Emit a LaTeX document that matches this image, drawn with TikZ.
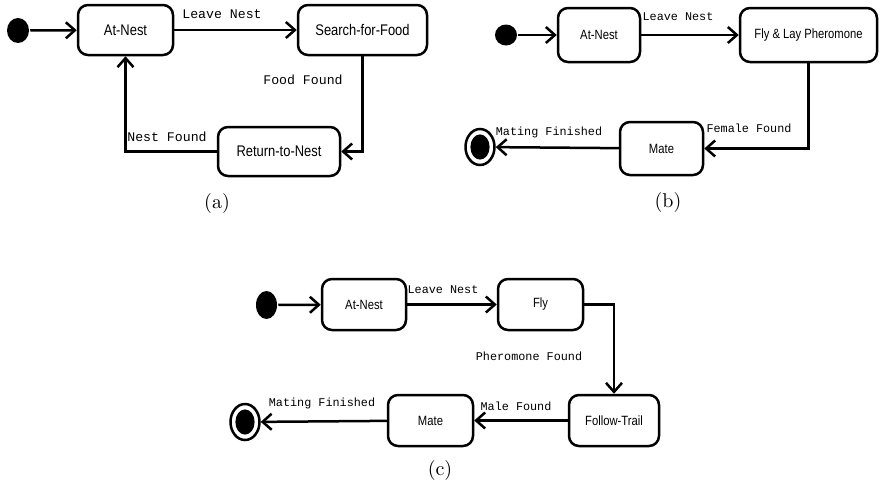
\documentclass[tikz,border=0pt]{standalone}
\usepackage{fontspec}
\setmonofont{Liberation Mono}
\newfontfamily\statefont[FakeStretch=0.84]{Liberation Sans}
\usetikzlibrary{arrows.meta,shapes.geometric}
\tikzset{
every picture/.style={line width=1.25pt},
state/.style={draw, rounded corners=5pt, align=center, inner sep=1pt,
  font=\statefont\fontsize{6.7}{8}\selectfont},
init/.style={ellipse, fill, inner sep=0pt},
final/.style={ellipse, draw, fill=white, inner sep=0pt,
  minimum width=14.5pt, minimum height=18pt,
  path picture={\fill[black] (path picture bounding box.center) ellipse (4.8pt and 6.3pt);}},
trans/.style={-{Straight Barb[length=4.5pt,width=8pt]}},
evt/.style={inner sep=1pt, font=\ttfamily\fontsize{5.9}{7}\selectfont},
caption/.style={font=\fontsize{10}{12}\selectfont}
}
\begin{document}
\begin{tikzpicture}[x=0.5pt,y=-0.5pt]
  \useasboundingbox (0,0) rectangle (883,488);
  % (a) foraging
  \begin{scope}[state/.append style={font=\statefont\fontsize{7.7}{9}\selectfont},
      evt/.append style={font=\ttfamily\fontsize{6.6}{8}\selectfont}]
    \node[init, minimum width=11pt, minimum height=12.5pt] (ia) at (18,30.5) {};
    \node[state, minimum width=47.5pt, minimum height=25pt] (a1) at (125.5,30) {At-Nest};
    \node[state, minimum width=64.5pt, minimum height=25pt] (a2) at (362.5,30) {Search-for-Food};
    \node[state, minimum width=61pt, minimum height=24.5pt] (a3) at (279,151.5) {Return-to-Nest};
    \draw[trans] (ia) -- (a1);
    \draw[trans] (a1) -- (a2);
    \draw[trans] (a2.south) |- (a3.east);
    \draw[trans] (a3.west) -| (a1.south);
    \node[evt] (la1) at (222,14) {Leave Nest};
    \node[evt] (la2) at (303,80) {Food Found};
    \node[evt] (la3) at (167,137) {Nest Found};
    \node[caption] (capa) at (217,203) {(a)};
  \end{scope}
  % (b) male
  \node[init, minimum width=11pt, minimum height=10.5pt] (ib) at (506,35) {};
  \node[state, minimum width=41pt, minimum height=27pt] (b1) at (599,35) {At-Nest};
  \node[state, minimum width=68.5pt, minimum height=27pt] (b2) at (808.5,35) {Fly \& Lay Pheromone};
  \node[state, minimum width=41.5pt, minimum height=26.5pt] (b3) at (661.5,148.5) {Mate};
  \node[final] (fb) at (480,147) {};
  \draw[trans] (ib) -- (b1);
  \draw[trans] (b1) -- (b2);
  \draw[trans] (b2.south) |- (b3.east);
  \draw[trans] (b3) -- (fb);
  \node[evt] (lb1) at (678,17) {Leave Nest};
  \node[evt] (lb2) at (749,128) {Female Found};
  \node[evt] (lb3) at (549,132) {Mating Finished};
  \node[caption] (capb) at (668,202) {(b)};
  % (c) female
  \node[init, minimum width=10.5pt, minimum height=14pt] (ic) at (266.5,305) {};
  \node[state, minimum width=42pt, minimum height=25.5pt] (c1) at (364,304.5) {At-Nest};
  \node[state, minimum width=42.5pt, minimum height=25.5pt] (c2) at (540.5,304.5) {Fly};
  \node[state, minimum width=45pt, minimum height=25.5pt] (c3) at (614,420.5) {Follow-Trail};
  \node[state, minimum width=42.5pt, minimum height=25.5pt] (c4) at (430.5,420.5) {Mate};
  \node[final] (fc) at (245,422) {};
  \draw[trans] (ic) -- (c1);
  \draw[trans] (c1) -- (c2);
  \draw[trans] (c2.east) -| (c3.north);
  \draw[trans] (c3) -- (c4);
  \draw[trans] (c4) -- (fc);
  \node[evt] (lc1) at (443,290) {Leave Nest};
  \node[evt] (lc2) at (529,356) {Pheromone Found};
  \node[evt] (lc3) at (516,406) {Male Found};
  \node[evt] (lc4) at (322,403) {Mating Finished};
  \node[caption] (capc) at (440,470) {(c)};
\end{tikzpicture}
\end{document}
